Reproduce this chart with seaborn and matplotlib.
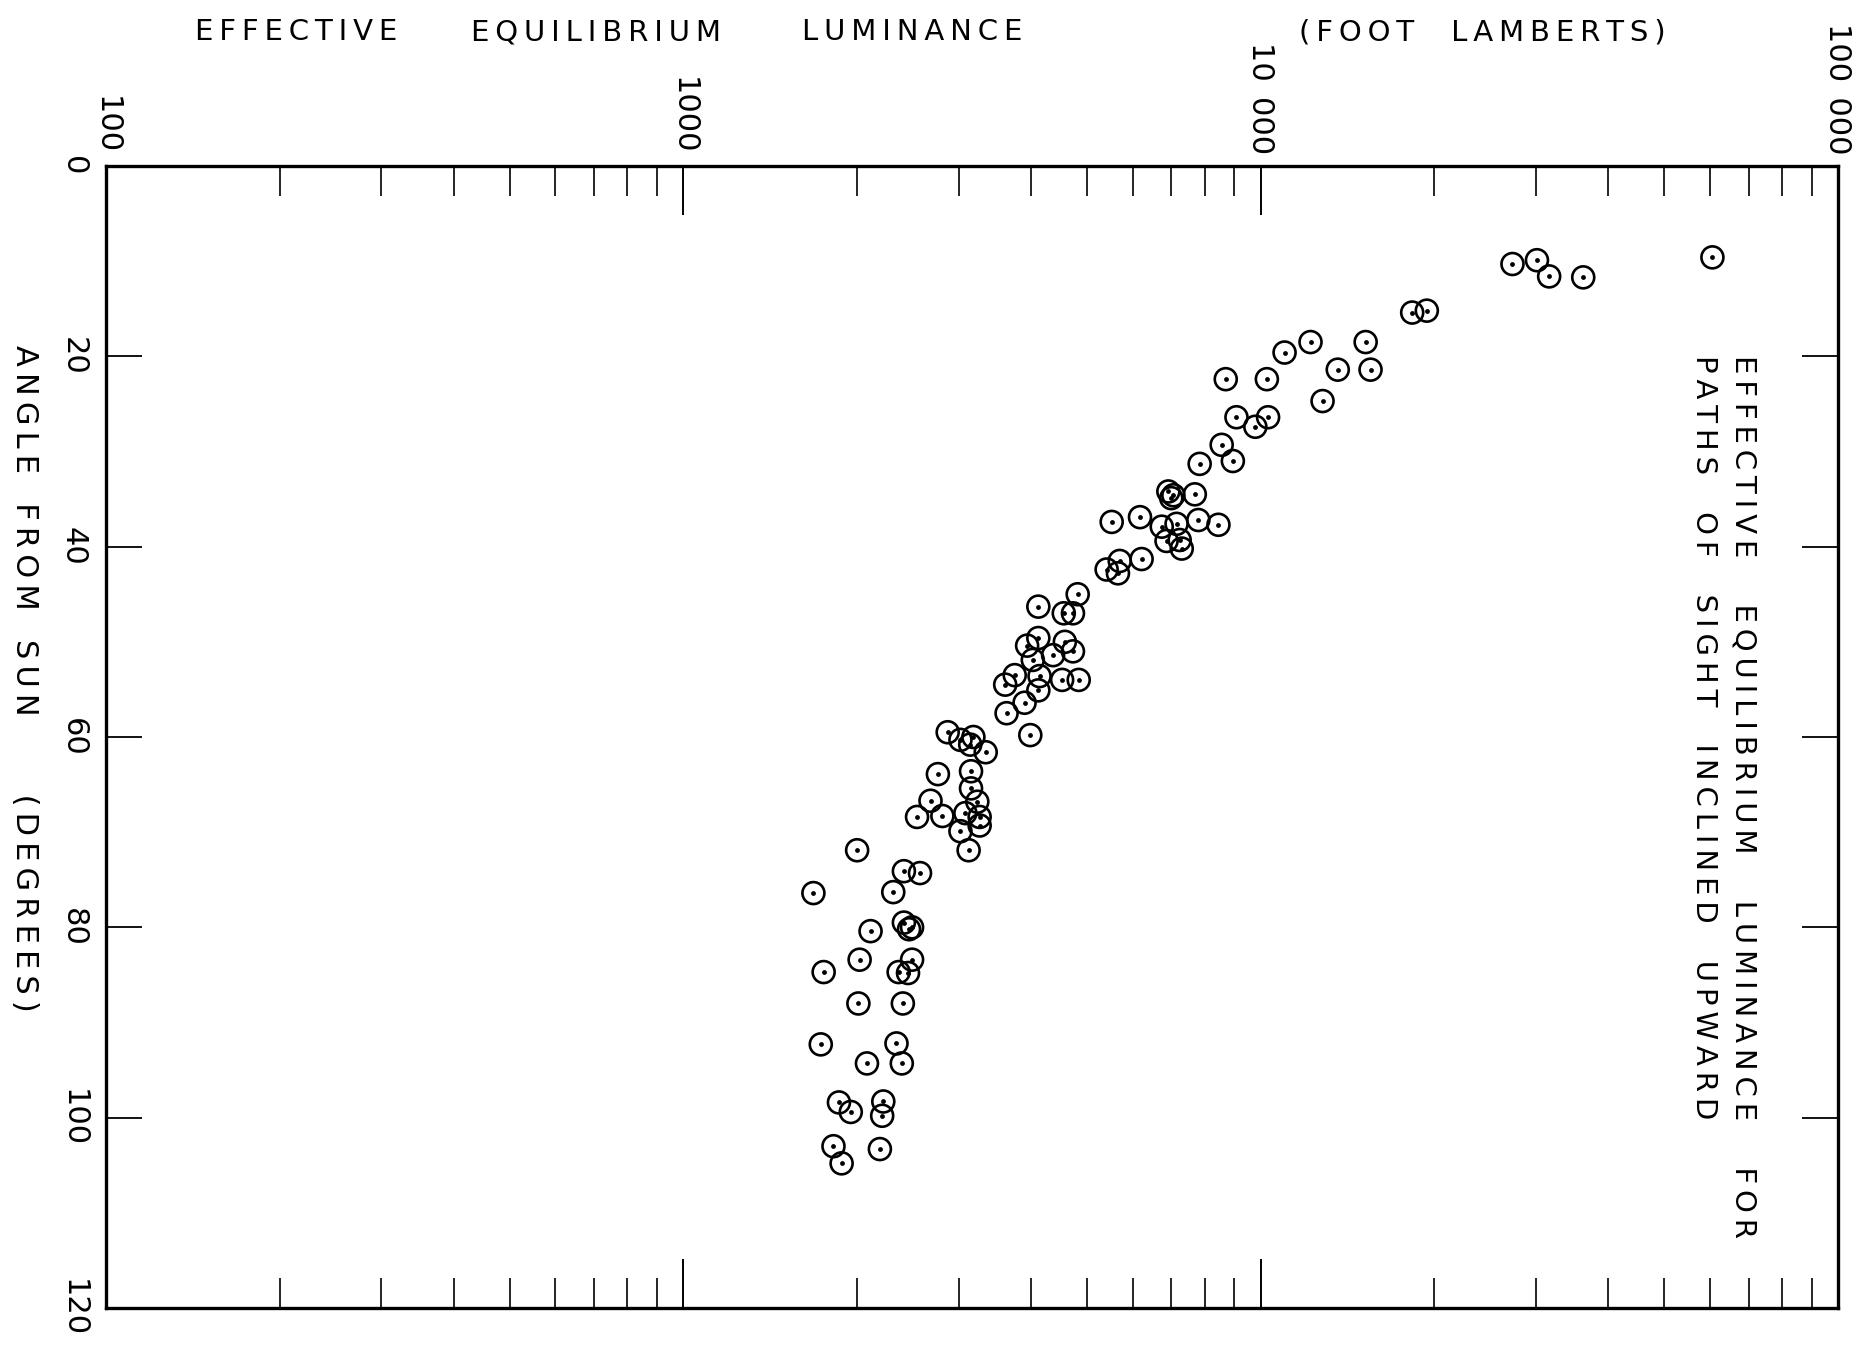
import matplotlib
matplotlib.use("Agg")
import matplotlib.pyplot as plt
import seaborn as sns
import pandas as pd
from matplotlib.ticker import LogLocator, NullFormatter

sns.set_theme(style="white")
plt.rcParams["font.family"] = ["DejaVu Sans"]
plt.rcParams["text.color"] = "black"

# effective equilibrium luminance (foot lamberts) vs angle from sun (degrees)
luminance = [60600, 27300, 30100, 31600, 36200, 18300, 19400, 12200, 15200, 11000,
             13600, 15500, 8700, 10250, 12800, 9080, 10300, 9790, 8560, 8950,
             7840, 6920, 7060, 7000, 7690, 5520, 6180, 6740, 7150, 7800,
             8450, 6870, 7240, 7300, 6220, 5700, 5410, 5660, 4820, 4560,
             4120, 4730, 4120, 3940, 4580, 4030, 4370, 4730, 3750, 4140,
             4530, 4840, 3610, 4120, 3900, 3630, 3990, 2870, 3020, 3180,
             3140, 3340, 3150, 2760, 3150, 3230, 2680, 3080, 3260, 3260,
             2810, 2540, 3020, 3120, 2000, 2410, 2570, 2310, 1680, 2410,
             2490, 2460, 2110, 2020, 2490, 2360, 2450, 1750, 2010, 2400,
             1730, 2340, 2080, 2390, 1860, 1950, 2220, 2210, 1820, 1880, 2190]
angle = [9.6, 10.3, 9.9, 11.6, 11.7, 15.4, 15.2, 18.5, 18.5, 19.6,
         21.4, 21.4, 22.4, 22.4, 24.7, 26.4, 26.4, 27.4, 29.3, 31.0,
         31.3, 34.2, 34.6, 34.9, 34.5, 37.4, 36.9, 37.9, 37.6, 37.2,
         37.7, 39.4, 39.3, 40.2, 41.3, 41.5, 42.4, 42.8, 45.0, 47.0,
         46.3, 47.0, 49.6, 50.4, 50.0, 51.9, 51.4, 51.0, 53.5, 53.6,
         54.0, 54.0, 54.5, 55.1, 56.4, 57.5, 59.8, 59.5, 60.3, 60.0,
         60.8, 61.6, 63.6, 63.9, 65.4, 66.8, 66.7, 68.0, 68.4, 69.3,
         68.3, 68.4, 69.9, 71.9, 71.9, 74.1, 74.3, 76.3, 76.4, 79.5,
         80.0, 80.2, 80.4, 83.4, 83.4, 84.7, 84.8, 84.7, 88.0, 88.0,
         92.3, 92.2, 94.3, 94.3, 98.4, 99.4, 98.3, 99.8, 103.0, 104.8, 103.3]

x_ticks = [100, 1000, 10000, 100000]
x_tick_labels = ["100", "1000", "10\u2002000", "100\u2002000"]
y_ticks = [0, 20, 40, 60, 80, 100, 120]
y_tick_labels = ["0", "20", "40", "60", "80", "100", "120"]


def spaced(text, gap=1):
    # wide lettering like the original stencil text
    return (" " * gap).join("\u2009".join(w) for w in text.split(" "))


W, H = 1857, 1350
fig = plt.figure(figsize=(W / 100, H / 100), dpi=100)
ax = fig.add_axes([106 / W, 1 - 1308 / H, (1838 - 106) / W, (1308 - 166) / H])

df = pd.DataFrame({"luminance": luminance, "angle": angle})
sns.scatterplot(data=df, x="luminance", y="angle", ax=ax, marker="o", s=250,
                color="black", linewidth=1.9, legend=False)
rings = ax.collections[-1]
rings.set_facecolor("none")
rings.set_edgecolor("black")
sns.scatterplot(data=df, x="luminance", y="angle", ax=ax, marker="o", s=12,
                color="black", linewidth=0, legend=False)

ax.set_xscale("log")
ax.set_xlim(100, 100000)
ax.set_ylim(120, 0)
ax.set_xlabel("")
ax.set_ylabel("")

ax.set_xticks(x_ticks, x_tick_labels)
ax.xaxis.set_minor_locator(LogLocator(base=10, subs=range(2, 10)))
ax.xaxis.set_minor_formatter(NullFormatter())
ax.set_yticks(y_ticks, y_tick_labels)

ax.tick_params(axis="x", which="both", direction="in", top=True, bottom=True,
               labeltop=True, labelbottom=False, color="black")
ax.tick_params(axis="x", which="major", length=35, width=1.4, pad=8.5,
               labelsize=22, labelrotation=-90, labelcolor="black")
ax.tick_params(axis="x", which="minor", length=21.5, width=1.2)
ax.tick_params(axis="y", which="major", direction="in", left=True, right=True,
               length=26, width=1.3, pad=13, labelsize=22, labelrotation=-90,
               color="black", labelcolor="black")
for lab in ax.get_yticklabels():
    lab.set_va("center")

for sp in ax.spines.values():
    sp.set_linewidth(2.4)
    sp.set_color("black")

# top title, word by word
for word, xpos in [("EFFECTIVE", 195), ("EQUILIBRIUM", 471), ("LUMINANCE", 802)]:
    fig.text(xpos / W, 1 - 32 / H, spaced(word), ha="left", va="center", fontsize=21)
fig.text(1299 / W, 1 - 32 / H, spaced("(FOOT LAMBERTS)", 4), ha="left", va="center", fontsize=21)

fig.text(24 / W, 1 - 678 / H, spaced("ANGLE FROM SUN", 3) + " " * 8 + spaced("(DEGREES)"),
         rotation=-90, ha="center", va="center", fontsize=22)

note = spaced("EFFECTIVE EQUILIBRIUM LUMINANCE FOR", 5) + "\n" + spaced("PATHS OF SIGHT INCLINED UPWARD", 4)
ax.text(0.934, 0.8345, note, transform=ax.transAxes, rotation=-90, ha="center", va="top",
        multialignment="left", linespacing=1.5, fontsize=21)

fig.savefig("out.png", dpi=100)
